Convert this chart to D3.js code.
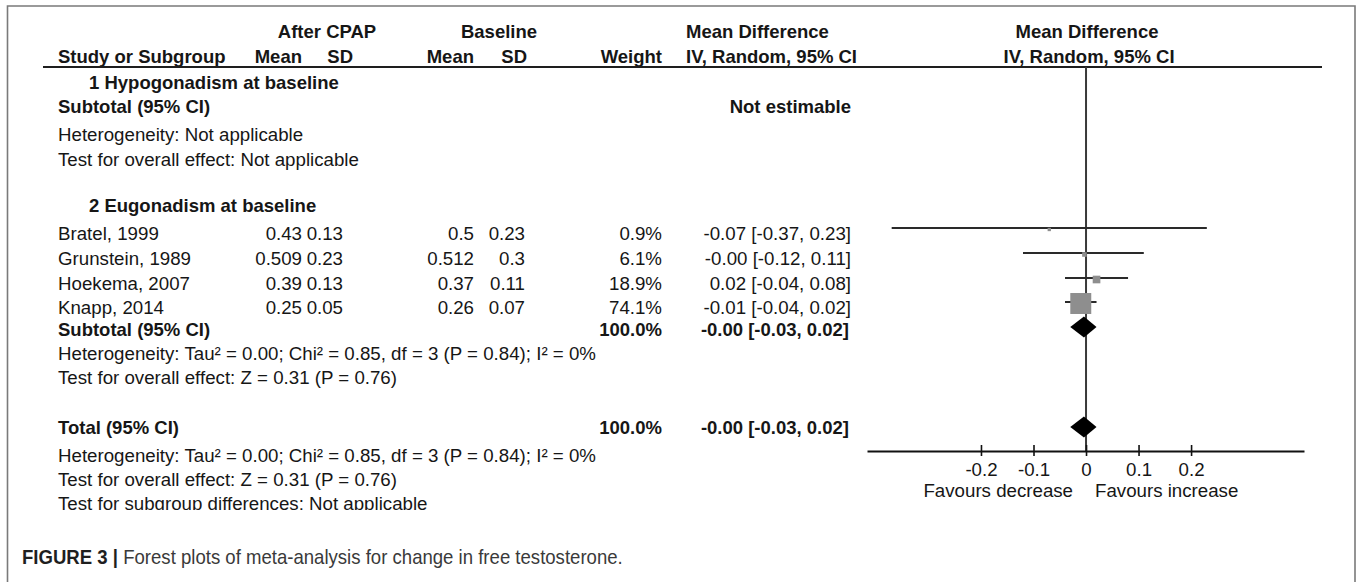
<!DOCTYPE html>
<html>
<head>
<meta charset="utf-8">
<script src="https://cdn.jsdelivr.net/npm/d3@7"></script>
<style>
  html, body { margin: 0; padding: 0; background: #fff; }
  svg { display: block; }
  text { font-family: "Liberation Sans", Arial, sans-serif; fill: #161616; }
  .b { font-weight: bold; }
</style>
</head>
<body>
<div id="chart"></div>
<script>
// ---- data ----
const studies   = ["Bratel, 1999", "Grunstein, 1989", "Hoekema, 2007", "Knapp, 2014"];
const afterMean = ["0.43", "0.509", "0.39", "0.25"];
const afterSD   = ["0.13", "0.23", "0.13", "0.05"];
const baseMean  = ["0.5", "0.512", "0.37", "0.26"];
const baseSD    = ["0.23", "0.3", "0.11", "0.07"];
const weights   = [0.9, 6.1, 18.9, 74.1];
const meanDiff  = [-0.07, -0.003, 0.02, -0.01];
const ciLow     = [-0.37, -0.12, -0.04, -0.04];
const ciHigh    = [0.23, 0.11, 0.08, 0.02];
const pooledMD   = -0.004;
const pooledLow  = -0.03;
const pooledHigh = 0.02;
const pooledWeight = 100.0;
const axisTicks = [-0.2, -0.1, 0, 0.1, 0.2];
const axisExtent = [-0.417, 0.415];
const favourLabels = ["Favours decrease", "Favours increase"];

const W = 1357, H = 582;
const FS = 18.7;   // regular text
const FSB = 18.5;  // bold text

const svg = d3.select("#chart").append("svg")
  .attr("width", W).attr("height", H)
  .attr("viewBox", `0 0 ${W} ${H}`);

// figure frame (open at the bottom)
svg.append("path")
  .attr("d", `M7.5,${H + 2} V6 H1355 V${H + 2}`)
  .attr("fill", "none").attr("stroke", "#7a7a7a").attr("stroke-width", 1.6);

// ---- scales ----
const x = d3.scaleLinear().domain(axisExtent).range([867, 1304]);
const sizeScale = d3.scaleLinear().domain([0, 100]).range([3.1, 27.2]);

// row positions (text centre lines)
const rowY = {
  head1: 31.5, head2: 56,
  g1: 82, g1sub: 106, g1het: 134, g1test: 159,
  g2: 205, s: [233, 258, 283, 307],
  g2sub: 329, g2het: 353, g2test: 377,
  tot: 427, totHet: 455, totTest: 479, subDiff: 503,
  caption: 556
};
const axisY = 451;

function txt(str, xPos, y, opts = {}) {
  const t = svg.append("text")
    .attr("x", xPos).attr("y", y).attr("dy", "0.36em")
    .attr("font-size", opts.bold ? FSB : FS)
    .attr("text-anchor", opts.anchor || "start")
    .text(str);
  if (opts.bold) t.attr("class", "b");
  return t;
}
const fmt2 = v => v.toFixed(2);
const ciLabel = (m, lo, hi) => `${fmt2(m)} [${fmt2(lo)}, ${fmt2(hi)}]`;

// ---- header ----
txt("After CPAP", 327, rowY.head1, { bold: true, anchor: "middle" });
txt("Baseline", 499, rowY.head1, { bold: true, anchor: "middle" });
txt("Mean Difference", 686, rowY.head1, { bold: true });
txt("Mean Difference", x(0) + 1, rowY.head1, { bold: true, anchor: "middle" });

txt("Study or Subgroup", 58, rowY.head2, { bold: true });
txt("Mean", 302, rowY.head2, { bold: true, anchor: "end" });
txt("SD", 353, rowY.head2, { bold: true, anchor: "end" });
txt("Mean", 474, rowY.head2, { bold: true, anchor: "end" });
txt("SD", 527, rowY.head2, { bold: true, anchor: "end" });
txt("Weight", 662, rowY.head2, { bold: true, anchor: "end" });
txt("IV, Random, 95% CI", 686, rowY.head2, { bold: true });
txt("IV, Random, 95% CI", x(0) + 3, rowY.head2, { bold: true, anchor: "middle" });

svg.append("line")
  .attr("x1", 43).attr("x2", 1322).attr("y1", 67).attr("y2", 67)
  .attr("stroke", "#1e1e1e").attr("stroke-width", 2);

// ---- subgroup 1 ----
txt("1 Hypogonadism at baseline", 89, rowY.g1, { bold: true });
txt("Subtotal (95% CI)", 58, rowY.g1sub, { bold: true });
txt("Not estimable", 851, rowY.g1sub, { bold: true, anchor: "end" });
txt("Heterogeneity: Not applicable", 58, rowY.g1het);
txt("Test for overall effect: Not applicable", 58, rowY.g1test);

// ---- subgroup 2 ----
txt("2 Eugonadism at baseline", 89, rowY.g2, { bold: true });
studies.forEach((s, i) => {
  const y = rowY.s[i];
  txt(s, 58, y);
  txt(afterMean[i], 302, y, { anchor: "end" });
  txt(afterSD[i], 343, y, { anchor: "end" });
  txt(baseMean[i], 474, y, { anchor: "end" });
  txt(baseSD[i], 525, y, { anchor: "end" });
  txt(d3.format(".1f")(weights[i]) + "%", 662, y, { anchor: "end" });
  txt(ciLabel(meanDiff[i], ciLow[i], ciHigh[i]), 851, y, { anchor: "end" });
});
txt("Subtotal (95% CI)", 58, rowY.g2sub, { bold: true });
txt(d3.format(".1f")(pooledWeight) + "%", 662, rowY.g2sub, { bold: true, anchor: "end" });
txt(ciLabel(pooledMD, pooledLow, pooledHigh), 849, rowY.g2sub, { bold: true, anchor: "end" });
txt("Heterogeneity: Tau\u00b2 = 0.00; Chi\u00b2 = 0.85, df = 3 (P = 0.84); I\u00b2 = 0%", 58, rowY.g2het);
txt("Test for overall effect: Z = 0.31 (P = 0.76)", 58, rowY.g2test);

// ---- overall ----
txt("Total (95% CI)", 58, rowY.tot, { bold: true });
txt(d3.format(".1f")(pooledWeight) + "%", 662, rowY.tot, { bold: true, anchor: "end" });
txt(ciLabel(pooledMD, pooledLow, pooledHigh), 849, rowY.tot, { bold: true, anchor: "end" });
txt("Heterogeneity: Tau\u00b2 = 0.00; Chi\u00b2 = 0.85, df = 3 (P = 0.84); I\u00b2 = 0%", 58, rowY.totHet);
txt("Test for overall effect: Z = 0.31 (P = 0.76)", 58, rowY.totTest);

// last line is cut just under its baseline
svg.append("clipPath").attr("id", "cutLine")
  .append("rect").attr("x", 0).attr("y", 0).attr("width", W).attr("height", rowY.subDiff + 7);
txt("Test for subgroup differences: Not applicable", 58, rowY.subDiff)
  .attr("clip-path", "url(#cutLine)");

// ---- forest plot ----
const plot = svg.append("g");

// line of no effect
plot.append("line")
  .attr("x1", x(0)).attr("x2", x(0)).attr("y1", 67).attr("y2", axisY)
  .attr("stroke", "#3a3a3a").attr("stroke-width", 2);

// confidence intervals
plot.selectAll("line.ci").data(studies).join("line")
  .attr("class", "ci")
  .attr("x1", (d, i) => x(ciLow[i])).attr("x2", (d, i) => x(ciHigh[i]))
  .attr("y1", (d, i) => rowY.s[i] - 5).attr("y2", (d, i) => rowY.s[i] - 5)
  .attr("stroke", "#2a2a2a").attr("stroke-width", 2);

// weight squares
plot.selectAll("rect.w").data(studies).join("rect")
  .attr("class", "w")
  .attr("x", (d, i) => x(meanDiff[i]) - sizeScale(weights[i]) / 2)
  .attr("y", (d, i) => rowY.s[i] - 3.5 - sizeScale(weights[i]) / 2)
  .attr("width", (d, i) => sizeScale(weights[i]))
  .attr("height", (d, i) => sizeScale(weights[i]))
  .attr("fill", "#8e8e8e");

// pooled diamonds
function diamond(cy) {
  const half = 10.5;
  return `M${x(pooledLow)},${cy} L${x(pooledMD)},${cy - half} L${x(pooledHigh)},${cy} L${x(pooledMD)},${cy + half} Z`;
}
plot.append("path").attr("d", diamond(rowY.g2sub - 2)).attr("fill", "#000");
plot.append("path").attr("d", diamond(rowY.tot)).attr("fill", "#000");

// axis
const axis = d3.axisBottom(x).tickValues(axisTicks).tickSizeOuter(0).tickSizeInner(0)
  .tickFormat(d => d === 0 ? "0" : String(d));
const ag = plot.append("g").attr("transform", `translate(0,${axisY})`).call(axis);
ag.select(".domain").attr("stroke", "#111").attr("stroke-width", 2);
ag.selectAll(".tick line").attr("y1", -6).attr("y2", 5)
  .attr("stroke", "#111").attr("stroke-width", 1.6);
ag.selectAll(".tick text")
  .attr("y", 18).attr("dy", "0.36em")
  .attr("font-size", FS)
  .attr("font-family", "'Liberation Sans', Arial, sans-serif")
  .style("fill", "#161616");

txt(favourLabels[0], x(0) - 13, 490, { anchor: "end" });
txt(favourLabels[1], x(0) + 9, 490);

// ---- caption (condensed setting) ----
const capG = svg.append("g").attr("transform", `translate(22,${rowY.caption}) scale(0.885,1)`);
const cap = capG.append("text")
  .attr("x", 0).attr("y", 0).attr("dy", "0.36em")
  .attr("font-size", 21)
  .style("font-family", "'Liberation Sans Narrow', 'Arial Narrow', 'Liberation Sans', sans-serif");
cap.append("tspan").attr("font-weight", "bold").style("fill", "#1f1f1f").text("FIGURE 3 | ");
cap.append("tspan").style("fill", "#3a3a3a").text("Forest plots of meta-analysis for change in free testosterone.");
</script>
</body>
</html>
